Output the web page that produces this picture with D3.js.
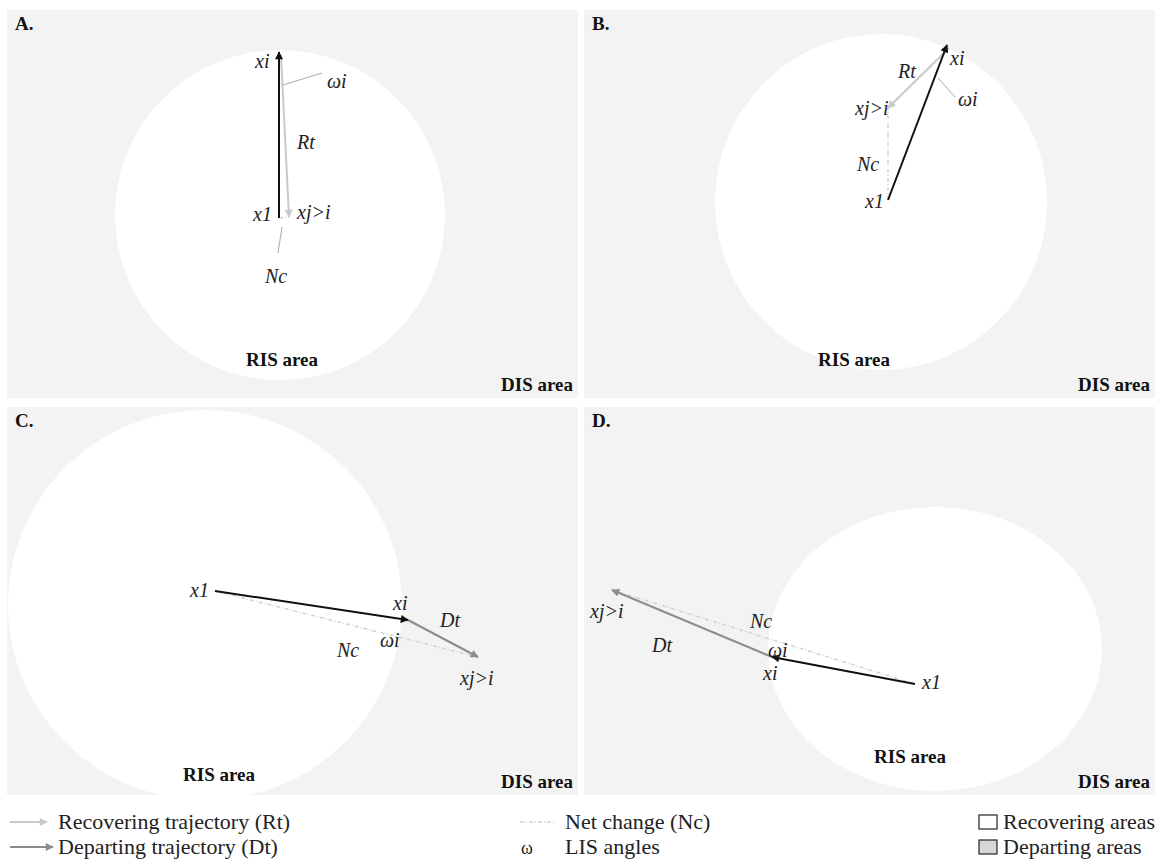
<!DOCTYPE html>
<html><head><meta charset="utf-8">
<script src="https://cdn.jsdelivr.net/npm/d3@7"></script>
<style>body{margin:0;background:#fff}svg{display:block}
svg text{font-family:"Liberation Serif","Times New Roman",Tinos,"DejaVu Serif","Noto Serif",serif}</style>
</head><body>
<script>
// ---- data (panel-local units) ----
const panelNames = ["A.", "B.", "C.", "D."];
const secondType = ["Rt", "Rt", "Dt", "Dt"];
const circleCx = [273, 297, 198, 351];
const circleCy = [205, 192, 198, 242];
const circleRx = [165, 166, 197, 167];
const circleRy = [165, 168, 195, 142];
const x1X = [272, 304, 208, 331], x1Y = [208, 190, 184, 277];
const xiX = [272, 363, 401, 188], xiY = [42, 35, 213, 250];
const xjX = [282, 304, 471, 28],  xjY = [207, 98, 250, 183];
const risLabelX = [275, 270, 212, 326], risLabelY = [356, 356, 374, 356];
// annotation labels
const labelPanel = [0,0,0,0,0,0, 1,1,1,1,1,1, 2,2,2,2,2,2, 3,3,3,3,3,3];
const labelText  = ["xi","ωi","Rt","x1","xj>i","Nc", "xi","ωi","Rt","xj>i","Nc","x1",
                    "x1","xi","Dt","ωi","Nc","xj>i", "xj>i","Dt","Nc","ωi","xi","x1"];
const labelX = [248,320,290,246,290,258, 366,374,314,271,273,281, 183,386,433,373,330,453, 6,68,166,184,179,338];
const labelY = [58,78,139,211,209,273, 55,96,68,105,161,198, 190,203,220,240,250,278, 211,245,221,250,273,282];
// leader lines for omega / Nc labels
const leaderPanel = [0, 0, 1];
const leaderX1 = [276, 275, 354], leaderY1 = [75, 217, 68];
const leaderX2 = [315, 271, 371], leaderY2 = [63, 243, 87];
const legendLeft = ["Recovering trajectory (Rt)", "Departing trajectory (Dt)"];
const legendMid = ["Net change (Nc)", "LIS angles"];
const legendRight = ["Recovering areas", "Departing areas"];

// ---- layout ----
const W = 1160, H = 863;
const panelX0 = [7, 584, 7, 584], panelY0 = [10, 10, 407, 407];
const PW = 571, PH = 388;
const colBlack = "#111", colDt = "#8c8c8c", colRt = "#c9c9c9", colNc = "#d2d2d2";
const panelBg = "#f3f3f3";

const svg = d3.select("body").append("svg").attr("width", W).attr("height", H);
const defs = svg.append("defs");
function marker(id, color) {
  defs.append("marker").attr("id", id).attr("viewBox", "0 0 10 10")
    .attr("refX", 9).attr("refY", 5).attr("markerWidth", 10).attr("markerHeight", 8)
    .attr("markerUnits", "userSpaceOnUse").attr("orient", "auto")
    .append("path").attr("d", "M0,0L10,5L0,10z").attr("fill", color);
}
marker("mBlack", colBlack); marker("mDt", colDt); marker("mRt", colRt);

panelNames.forEach((name, p) => {
  const sx = d3.scaleLinear().domain([0, PW]).range([panelX0[p], panelX0[p] + PW]);
  const sy = d3.scaleLinear().domain([0, PH]).range([panelY0[p], panelY0[p] + PH]);
  const g = svg.append("g");
  const clipId = "clip" + p;
  defs.append("clipPath").attr("id", clipId).append("rect")
    .attr("x", sx(0)).attr("y", sy(0)).attr("width", sx(PW) - sx(0)).attr("height", sy(PH) - sy(0));
  g.append("rect").attr("x", sx(0)).attr("y", sy(0)).attr("width", sx(PW) - sx(0))
    .attr("height", sy(PH) - sy(0)).attr("fill", panelBg);
  g.append("ellipse").attr("clip-path", `url(#${clipId})`)
    .attr("cx", sx(circleCx[p])).attr("cy", sy(circleCy[p]))
    .attr("rx", sx(circleRx[p]) - sx(0)).attr("ry", sy(circleRy[p]) - sy(0)).attr("fill", "#fff");

  g.append("line").attr("x1", sx(x1X[p])).attr("y1", sy(x1Y[p]))
    .attr("x2", sx(xjX[p])).attr("y2", sy(xjY[p]))
    .attr("stroke", colNc).attr("stroke-width", 1.5).attr("stroke-dasharray", "4,2,1,2");
  leaderPanel.forEach((lp, k) => {
    if (lp !== p) return;
    g.append("line").attr("x1", sx(leaderX1[k])).attr("y1", sy(leaderY1[k]))
      .attr("x2", sx(leaderX2[k])).attr("y2", sy(leaderY2[k]))
      .attr("stroke", "#aaa").attr("stroke-width", 1);
  });
  const isRt = secondType[p] === "Rt";
  g.append("line").attr("x1", sx(xiX[p] + (isRt ? 2 : 0))).attr("y1", sy(xiY[p] + (isRt ? 3 : 0)))
    .attr("x2", sx(xjX[p])).attr("y2", sy(xjY[p]))
    .attr("stroke", isRt ? colRt : colDt).attr("stroke-width", 2)
    .attr("marker-end", `url(#${isRt ? "mRt" : "mDt"})`);
  g.append("line").attr("x1", sx(x1X[p])).attr("y1", sy(x1Y[p]))
    .attr("x2", sx(xiX[p])).attr("y2", sy(xiY[p]))
    .attr("stroke", colBlack).attr("stroke-width", 2).attr("marker-end", "url(#mBlack)");

  labelPanel.forEach((lp, k) => {
    if (lp !== p) return;
    g.append("text").attr("x", sx(labelX[k])).attr("y", sy(labelY[k]))
      .attr("font-style", "italic").attr("font-size", 20)
      .attr("fill", "#222").text(labelText[k]);
  });
  g.append("text").attr("x", sx(8)).attr("y", sy(20))
    .attr("font-weight", "bold").attr("font-size", 19).attr("fill", "#111").text(name);
  g.append("text").attr("x", sx(risLabelX[p])).attr("y", sy(risLabelY[p]))
    .attr("text-anchor", "middle").attr("font-weight", "bold")
    .attr("font-size", 19).attr("fill", "#111").text("RIS area");
  g.append("text").attr("x", sx(PW - 5)).attr("y", sy(381)).attr("text-anchor", "end")
    .attr("font-weight", "bold").attr("font-size", 19)
    .attr("fill", "#111").text("DIS area");
});

// ---- legend ----
const lg = svg.append("g").attr("font-size", 22).attr("fill", "#222");
const rowY = [829, 854];
lg.append("line").attr("x1", 10).attr("y1", rowY[0] - 7).attr("x2", 47).attr("y2", rowY[0] - 7)
  .attr("stroke", colRt).attr("stroke-width", 2).attr("marker-end", "url(#mRt)");
lg.append("line").attr("x1", 10).attr("y1", rowY[1] - 7).attr("x2", 53).attr("y2", rowY[1] - 7)
  .attr("stroke", colDt).attr("stroke-width", 2).attr("marker-end", "url(#mDt)");
legendLeft.forEach((t, i) => lg.append("text").attr("x", 58).attr("y", rowY[i]).text(t));
lg.append("line").attr("x1", 520).attr("y1", rowY[0] - 7).attr("x2", 555).attr("y2", rowY[0] - 7)
  .attr("stroke", colNc).attr("stroke-width", 1.5).attr("stroke-dasharray", "4,2,1,2");
lg.append("text").attr("x", 521).attr("y", rowY[1]).attr("font-size", 18).text("ω");
legendMid.forEach((t, i) => lg.append("text").attr("x", 565).attr("y", rowY[i]).text(t));
lg.append("rect").attr("x", 979).attr("y", rowY[0] - 14).attr("width", 18).attr("height", 14)
  .attr("fill", "#fff").attr("stroke", "#333").attr("stroke-width", 1.3);
lg.append("rect").attr("x", 979).attr("y", rowY[1] - 14).attr("width", 18).attr("height", 14)
  .attr("fill", "#d6d6d6").attr("stroke", "#333").attr("stroke-width", 1.3);
legendRight.forEach((t, i) => lg.append("text").attr("x", 1003).attr("y", rowY[i]).text(t));
</script>
</body></html>
